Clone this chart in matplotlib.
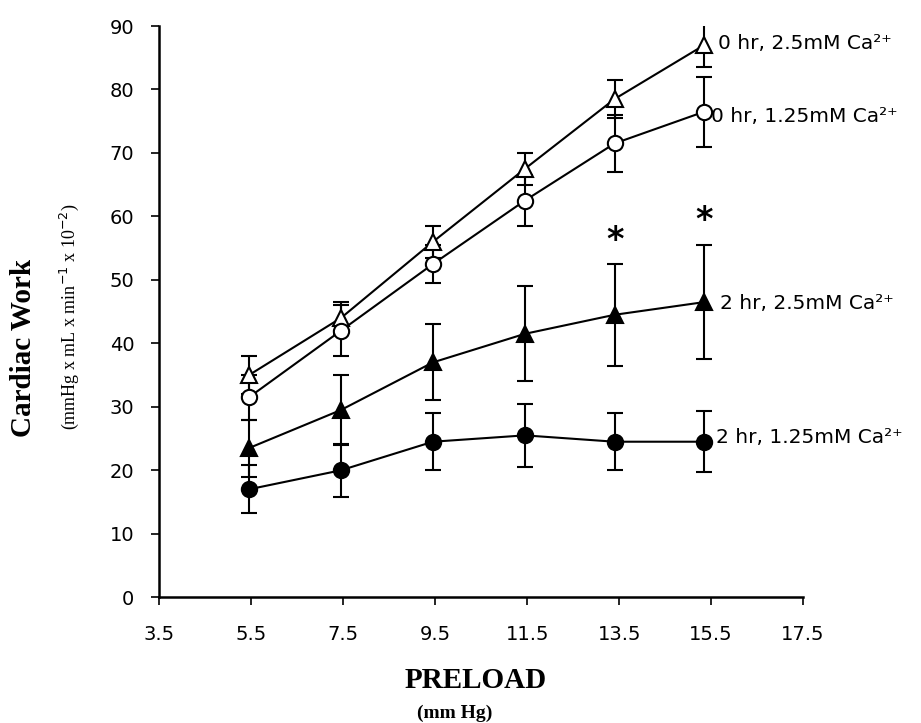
import numpy as np
import matplotlib.pyplot as plt

preload = [5.45, 7.45, 9.45, 11.45, 13.4, 15.35]

tri_open = [35, 44, 56, 67.5, 78.5, 87]
tri_open_err = [3, 2.5, 2.5, 2.5, 3, 3.5]
circ_open = [31.5, 42, 52.5, 62.5, 71.5, 76.5]
circ_open_err = [3.5, 4, 3, 4, 4.5, 5.5]
tri_fill = [23.5, 29.5, 37, 41.5, 44.5, 46.5]
tri_fill_err = [4.5, 5.5, 6, 7.5, 8, 9]
circ_fill = [17, 20, 24.5, 25.5, 24.5, 24.5]
circ_fill_err = [3.8, 4.2, 4.5, 5, 4.5, 4.8]

labels = ['0 hr, 2.5mM Ca²⁺', '0 hr, 1.25mM Ca²⁺',
          '2 hr, 2.5mM Ca²⁺', '2 hr, 1.25mM Ca²⁺']
star_x = [13.4, 15.35]
star_y = [56.2, 59.4]

plt.rcParams['font.family'] = ['DejaVu Sans']

fig = plt.figure(figsize=(9.21, 7.23), dpi=100)
ax = fig.add_axes([0.173, 0.174, 0.699, 0.79])

series = [
    (tri_open, tri_open_err, '^', 'white'),
    (circ_open, circ_open_err, 'o', 'white'),
    (tri_fill, tri_fill_err, '^', 'black'),
    (circ_fill, circ_fill_err, 'o', 'black'),
]
for vals, err, mk, fc in series:
    ax.errorbar(preload, vals, yerr=err, color='black', marker=mk, markersize=11,
                markerfacecolor=fc, markeredgecolor='black', markeredgewidth=1.5,
                linewidth=1.5, capsize=6, elinewidth=1.5, capthick=1.5)

# label positions next to the last point
offsets = [(0.3, 0.3), (0.14, -0.7), (0.35, -0.2), (0.25, 0.7)]
for (vals, err, mk, fc), lab, (dx, dy) in zip(series, labels, offsets):
    ax.text(preload[-1] + dx, vals[-1] + dy, lab, fontsize=14.5, va='center', ha='left')

for sx, sy in zip(star_x, star_y):
    ax.text(sx, sy, '*', fontsize=24, fontweight='bold', ha='center', va='center')

ax.set_xlim(3.5, 17.5)
ax.set_ylim(0, 90)
ax.set_xticks(np.arange(3.5, 17.6, 2))
ax.set_yticks(np.arange(0, 91, 10))
ax.tick_params(axis='x', labelsize=14, width=1.2, length=6, pad=14)
ax.tick_params(axis='y', labelsize=14, width=1.2, length=6, pad=12)
ax.spines['top'].set_visible(False)
ax.spines['right'].set_visible(False)
ax.spines['left'].set_linewidth(1.8)
ax.spines['bottom'].set_linewidth(1.8)

fig.text(0.516, 0.059, 'PRELOAD', fontsize=21, fontweight='bold', family='Liberation Serif',
         ha='center', va='center')
fig.text(0.494, 0.014, '(mm Hg)', fontsize=14, fontweight='bold', family='Liberation Serif',
         ha='center', va='center')
fig.text(0.025, 0.519, 'Cardiac Work', fontsize=21, fontweight='bold', family='Liberation Serif',
         rotation=90, ha='center', va='center')
fig.text(0.075, 0.562, '(mmHg x mL x min$^{-1}$ x 10$^{-2}$)', fontsize=13,
         family='Liberation Serif', rotation=90, ha='center', va='center')

fig.savefig('out.png', dpi=100)
